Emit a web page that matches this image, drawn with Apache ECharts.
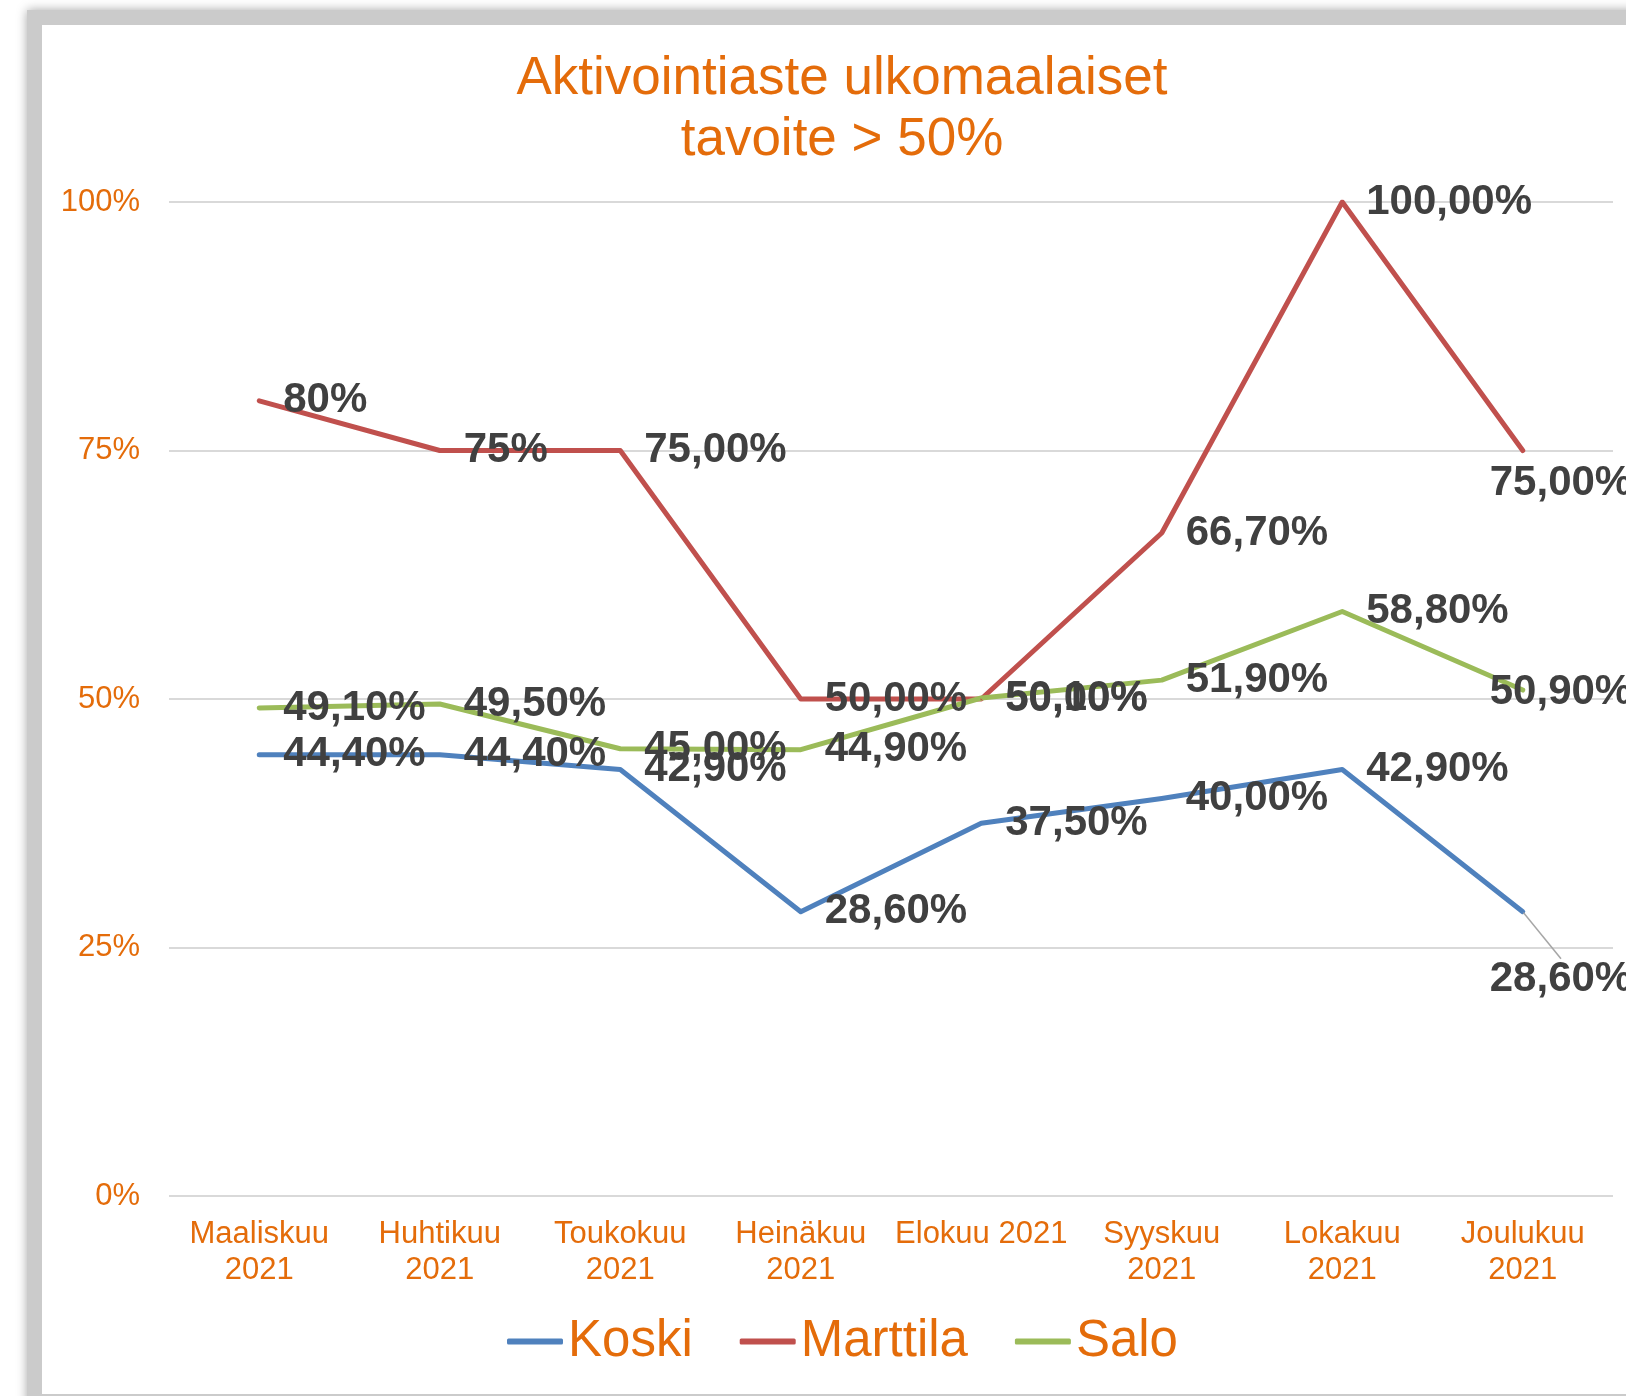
<!DOCTYPE html>
<html>
<head>
<meta charset="utf-8">
<title>Aktivointiaste ulkomaalaiset</title>
<script src="https://cdn.jsdelivr.net/npm/echarts@6/dist/echarts.min.js"></script>
<style>
  html, body { margin: 0; padding: 0; background: #ffffff; }
  #chart { width: 1626px; height: 1396px; }
</style>
</head>
<body>
<div id="chart"></div>
<script>
// months shown on the x axis (Excel wrapped all but Elokuu)
const months = [
    'Maaliskuu\n2021', 'Huhtikuu\n2021', 'Toukokuu\n2021', 'Heinäkuu\n2021',
    'Elokuu 2021', 'Syyskuu\n2021', 'Lokakuu\n2021', 'Joulukuu\n2021'
];

// activation rate per municipality, percent
const koski = [44.4, 44.4, 42.9, 28.6, 37.5, 40.0, 42.9, 28.6];
const marttila = [80, 75, 75, 50, 50, 66.7, 100, 75];
const salo = [49.1, 49.5, 45.0, 44.9, 50.1, 51.9, 58.8, 50.9];

const yTicks = [0, 25, 50, 75, 100];

const orange = '#E46C0A';
const font = "'Liberation Sans', Arial, sans-serif";

function fmtPct(v, decimals) {
    return v.toFixed(decimals).replace('.', ',') + '%';
}

// labels that were dragged by hand in the original (last month)
const moved = {
    Koski: { dx: -57, dy: 68 },
    Marttila: { dx: -57, dy: 33 },
    Salo: { dx: -57, dy: 2 }
};

function makeSeries(name, values, color, intFirst) {
    const last = values.length - 1;
    // only the dragged Koski label gets a leader line
    const data = values.map((v, i) => {
        if (name === 'Koski' && i === last) {
            return { value: v, labelLine: { show: true } };
        }
        return v;
    });
    return {
        name: name,
        type: 'line',
        data: data,
        symbol: 'circle',
        symbolSize: 2,
        lineStyle: { color: color, width: 5, cap: 'round', join: 'round' },
        itemStyle: { color: color },
        emphasis: { disabled: true },
        label: {
            show: true,
            position: 'right',
            distance: 23,
            fontFamily: font,
            fontSize: 42,
            fontWeight: 'bold',
            color: '#404040',
            formatter: function (p) {
                const dec = (intFirst && p.dataIndex < 2) ? 0 : 2;
                return fmtPct(p.value, dec);
            }
        },
        labelLine: {
            show: false,
            lineStyle: { color: '#a6a6a6', width: 1.5 }
        },
        labelLayout: function (p) {
            if (p.dataIndex === last) return moved[name];
            return {};
        }
    };
}

const chart = echarts.init(document.getElementById('chart'));

const option = {
    animation: false,
    backgroundColor: 'transparent',
    textStyle: { fontFamily: font },
    graphic: [
        {
            type: 'rect',
            z: -10,
            shape: { x: 27, y: 10, width: 1700, height: 1500 },
            style: { fill: '#cbcbcb', shadowBlur: 10, shadowColor: 'rgba(0,0,0,0.35)' }
        },
        {
            type: 'rect',
            z: -9,
            shape: { x: 42, y: 25, width: 1700, height: 1369 },
            style: { fill: '#ffffff' }
        }
    ],
    title: {
        text: 'Aktivointiaste ulkomaalaiset\ntavoite > 50%',
        left: 837,
        top: 44,
        textAlign: 'center',
        textStyle: {
            fontFamily: font,
            fontSize: 53,
            fontWeight: 'normal',
            color: orange,
            lineHeight: 61
        }
    },
    legend: {
        data: ['Koski', 'Marttila', 'Salo'],
        left: 507,
        top: 1316,
        padding: 0,
        icon: 'roundRect',
        itemWidth: 56,
        itemHeight: 6,
        itemGap: 47,
        textStyle: { fontFamily: font, fontSize: 51, color: orange }
    },
    grid: { left: 169, right: 13, top: 202, bottom: 200, containLabel: false },
    xAxis: {
        type: 'category',
        data: months,
        axisLine: { show: false },
        axisTick: { show: false },
        axisLabel: {
            interval: 0,
            margin: 20,
            fontFamily: font,
            fontSize: 31,
            lineHeight: 36,
            color: orange
        }
    },
    yAxis: {
        type: 'value',
        min: yTicks[0],
        max: yTicks[yTicks.length - 1],
        interval: 25,
        axisLine: { show: false },
        axisTick: { show: false },
        axisLabel: {
            margin: 29,
            fontFamily: font,
            fontSize: 31,
            color: orange,
            formatter: '{value}%'
        },
        splitLine: { lineStyle: { color: '#d9d9d9', width: 2 } }
    },
    series: [
        makeSeries('Koski', koski, '#4F81BD', false),
        makeSeries('Marttila', marttila, '#C0504D', true),
        makeSeries('Salo', salo, '#9BBB59', false)
    ]
};

chart.setOption(option);
window.addEventListener('resize', chart.resize);
</script>
</body>
</html>
